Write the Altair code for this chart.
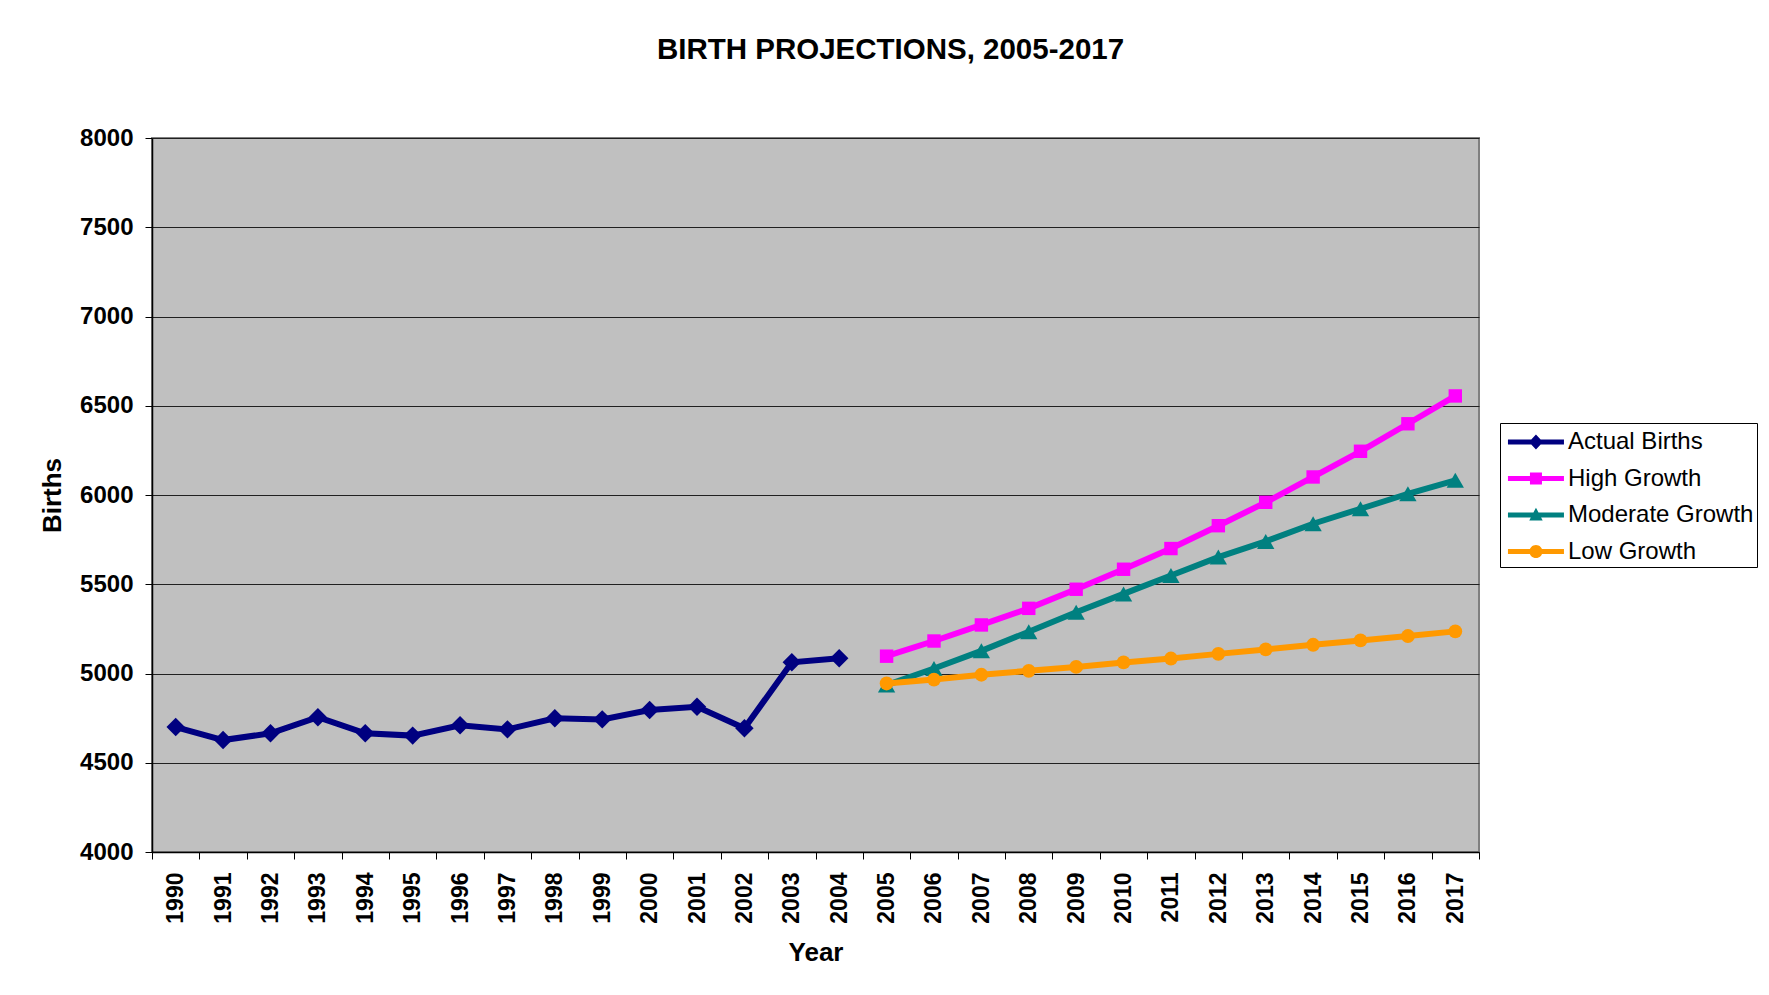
import altair as alt
import pandas as pd

# ---- data ----
years = ["1990", "1991", "1992", "1993", "1994", "1995", "1996", "1997", "1998",
         "1999", "2000", "2001", "2002", "2003", "2004", "2005", "2006", "2007",
         "2008", "2009", "2010", "2011", "2012", "2013", "2014", "2015", "2016", "2017"]
actual_years = ["1990", "1991", "1992", "1993", "1994", "1995", "1996", "1997",
                "1998", "1999", "2000", "2001", "2002", "2003", "2004"]
actual = [4700, 4627, 4665, 4755, 4665, 4652, 4710, 4687, 4749, 4743, 4795, 4814,
          4693, 5063, 5085]
proj_years = ["2005", "2006", "2007", "2008", "2009", "2010", "2011", "2012", "2013",
              "2014", "2015", "2016", "2017"]
high = [5097, 5182, 5272, 5365, 5472, 5584, 5700, 5828, 5959, 6101, 6245, 6399, 6555]
moderate = [4935, 5028, 5127, 5234, 5343, 5446, 5549, 5652, 5740, 5839, 5923, 6007, 6082]
low = [4944, 4966, 4993, 5015, 5037, 5062, 5084, 5110, 5135, 5161, 5185, 5210, 5236]

series_names = ["Actual Births", "High Growth", "Moderate Growth", "Low Growth"]
series_colors = ["#000080", "#FF00FF", "#008080", "#FF9900"]
y_ticks = [4000, 4500, 5000, 5500, 6000, 6500, 7000, 7500, 8000]

rows = []
for yr, v in zip(actual_years, actual):
    rows.append({"Year": yr, "Births": v, "Series": "Actual Births"})
for name, vals in [("High Growth", high), ("Moderate Growth", moderate), ("Low Growth", low)]:
    for yr, v in zip(proj_years, vals):
        rows.append({"Year": yr, "Births": v, "Series": name})
df = pd.DataFrame(rows)

FONT = "Liberation Sans"

x_enc = alt.X(
    "Year:N",
    sort=years,
    scale=alt.Scale(type="band", domain=years, paddingInner=0, paddingOuter=0),
    bandPosition=0.5,
    axis=alt.Axis(
        title="Year", labelAngle=-90, tickBand="extent", labelFontSize=23,
        labelFontWeight="bold", labelFont=FONT, labelColor="black",
        labelPadding=13, tickSize=7, tickColor="black", domainColor="black",
        domainWidth=1.5, titleFontSize=26, titleFont=FONT, titleFontWeight="bold",
        titleColor="black", titlePadding=16, grid=False,
    ),
)
y_enc = alt.Y(
    "Births:Q",
    scale=alt.Scale(domain=[4000, 8000], nice=False, zero=False),
    axis=alt.Axis(
        title="Births", values=y_ticks, format="d", labelFontSize=24,
        labelFontWeight="bold", labelFont=FONT, labelColor="black",
        labelPadding=12, tickSize=7, tickColor="black", domainColor="black",
        domainWidth=1.5, titleFontSize=26, titleFont=FONT, titleFontWeight="bold",
        titleColor="black", titlePadding=14, grid=True, gridColor="#202020",
        gridWidth=1, gridOpacity=1,
    ),
)

marker_shapes = ["diamond", "square", "triangle-up", "circle"]
marker_sizes = [340, 180, 300, 190]

layers = []
for name, col, shp, sz in zip(series_names, series_colors, marker_shapes, marker_sizes):
    sub = alt.Chart(df).transform_filter(alt.datum.Series == name)
    line = sub.mark_line(strokeWidth=6, color=col).encode(x=x_enc, y=y_enc)
    pts = sub.mark_point(filled=True, opacity=1, shape=shp, size=sz,
                         color=col, strokeWidth=0).encode(x=x_enc, y=y_enc)
    layers += [line, pts]

# legend symbols: a line with its marker, drawn as one custom path
LINE = "M-0.69,-0.16 L2.81,-0.16 L2.81,0.16 L-0.69,0.16 Z"
legend_paths = [
    LINE + " M1.06,-0.47 L1.5,0 L1.06,0.47 L0.62,0 Z",
    LINE + " M0.685,-0.375 L1.435,-0.375 L1.435,0.375 L0.685,0.375 Z",
    LINE + " M1.06,-0.46 L1.48,0.34 L0.64,0.34 Z",
    LINE + " M0.65,0 A0.41,0.41 0 1,1 1.47,0 A0.41,0.41 0 1,1 0.65,0 Z",
]
legend_layer = alt.Chart(df).transform_filter("false").mark_point(
    filled=True, opacity=1, size=1024
).encode(
    x=x_enc, y=y_enc,
    color=alt.Color("Series:N", scale=alt.Scale(domain=series_names, range=series_colors),
                    legend=alt.Legend(title=None)),
    shape=alt.Shape("Series:N", scale=alt.Scale(domain=series_names, range=legend_paths),
                    legend=alt.Legend(title=None)),
)
layers.append(legend_layer)

chart = alt.layer(*layers).properties(
    width=1327,
    height=714,
    autosize="none",
    background="white",
    padding={"left": 144, "top": 130, "right": 282, "bottom": 130},
    title=alt.TitleParams(
        "BIRTH PROJECTIONS, 2005-2017", fontSize=29.5, font=FONT, fontWeight="bold",
        color="black", anchor="middle", frame="group", dx=75, offset=61,
    ),
).configure_view(
    fill="#C0C0C0", stroke="#808080", strokeWidth=2
).configure_legend(
    orient="none", legendX=1348, legendY=285, padding=3, strokeColor="black",
    fillColor="white", labelFontSize=24, labelFont=FONT, labelColor="black",
    labelOffset=33, labelLimit=400, rowPadding=8.5, symbolStrokeWidth=0,
    symbolSize=1024, cornerRadius=0,
)

chart.save("out.html", embed_options={"renderer": "svg", "actions": False})
